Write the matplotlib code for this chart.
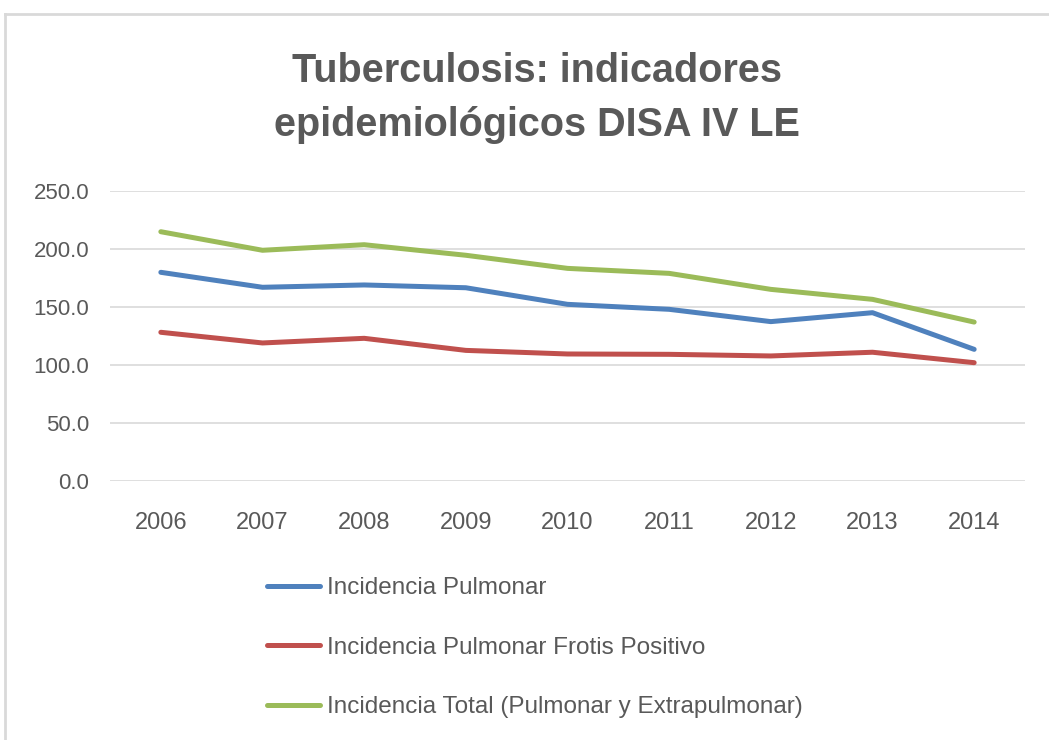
import matplotlib.pyplot as plt
from matplotlib import font_manager
from matplotlib.lines import Line2D

# data
years = ['2006', '2007', '2008', '2009', '2010', '2011', '2012', '2013', '2014']
pulmonar = [179.9, 167.0, 169.0, 166.6, 152.3, 148.0, 137.4, 145.1, 113.5]
frotis_pos = [128.2, 119.0, 123.0, 112.6, 109.5, 109.2, 107.8, 111.0, 102.0]
total = [214.9, 198.9, 203.7, 194.6, 183.3, 179.0, 165.2, 156.6, 137.0]
labels = ['Incidencia Pulmonar',
          'Incidencia Pulmonar Frotis Positivo',
          'Incidencia Total (Pulmonar y Extrapulmonar)']
colors = ['#4F81BD', '#C0504D', '#9BBB59']
title = 'Tuberculosis: indicadores\nepidemiológicos DISA IV LE'

names = {f.name for f in font_manager.fontManager.ttflist}
fam = 'Liberation Sans Narrow' if 'Liberation Sans Narrow' in names else 'Liberation Sans'
plt.rcParams['font.family'] = [fam, 'DejaVu Sans']
txt = '#595959'

W, H = 1049, 740
fig = plt.figure(figsize=(W / 100, H / 100), dpi=100)
ax = fig.add_axes([110 / W, 1 - 481 / H, 915 / W, 290 / H])

x = range(len(years))
for vals, lab, c in zip([pulmonar, frotis_pos, total], labels, colors):
    ax.plot(x, vals, color=c, lw=3.6, label=lab, solid_capstyle='round')

ax.set_xlim(-0.5, len(years) - 0.5)
ax.set_ylim(0, 250)
ax.set_yticks([0, 50, 100, 150, 200, 250])
ax.set_yticklabels([f'{v:.1f}' for v in [0, 50, 100, 150, 200, 250]])
ax.set_xticks(list(x))
ax.set_xticklabels(years)
ax.tick_params(length=0, labelcolor=txt)
ax.tick_params(axis='y', pad=15, labelsize=16)
ax.tick_params(axis='x', pad=22, labelsize=17)
ax.grid(axis='y', color='#D9D9D9', lw=1.2)
ax.set_axisbelow(True)
for s in ax.spines.values():
    s.set_visible(False)

fig.text(537 / W, 1 - 98 / H, title, ha='center', va='center',
         fontsize=28.5, fontweight='bold', color=txt, linespacing=1.5)

leg = fig.legend(loc='upper left', bbox_to_anchor=(267 / W, 1 - 577 / H),
                 frameon=False, borderpad=0, borderaxespad=0,
                 handlelength=2.2, handletextpad=0.25, labelspacing=1.55,
                 fontsize=17.5)
for t in leg.get_texts():
    t.set_color(txt)

# chart frame (only top and left edges visible)
fig.add_artist(Line2D([5 / W, 5 / W], [0, 1 - 14 / H], color='#D9D9D9', lw=2))
fig.add_artist(Line2D([5 / W, 1], [1 - 14 / H, 1 - 14 / H], color='#D9D9D9', lw=2))

fig.savefig('out.png', dpi=100)
